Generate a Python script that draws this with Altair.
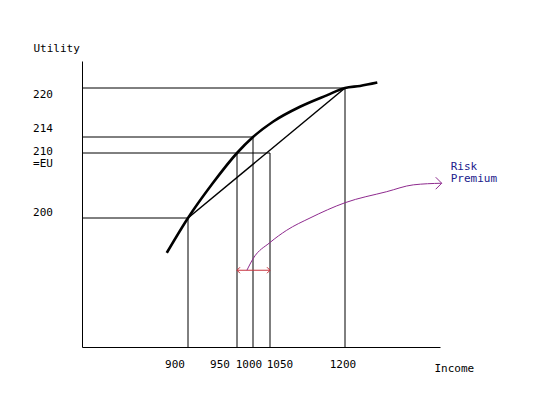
import altair as alt
import pandas as pd

# ---- schematic axes: anchor values (the original drawing is not to scale) ----
income_anchor = [700, 900, 950, 1000, 1050, 1200, 1400]
utility_anchor = [180, 200, 210, 214, 220, 224]
income_range_px = [0, 106, 155, 171, 188, 263, 358]
utility_range_px = [286, 157, 92, 76, 27, 0]

# ---- tick labels ----
income_ticks = [900, 950, 1000, 1050, 1200]
income_tick_labels = ["900", "950", "1000", "1050", "1200"]
utility_ticks = [220, 214, 210, 200]
utility_tick_labels = [["220"], ["214"], ["210", "=EU"], ["200"]]

# ---- utility curve ----
curve_income = [860, 900, 925, 950, 1000, 1056.6, 1110, 1163.4, 1200, 1231.6, 1268]
curve_utility = [194.6, 200, 205.3, 210, 214, 215.9, 217.7, 219.1, 220, 220.3, 220.8]

# ---- chord between the two outcomes ----
chord_income = [900, 1200]
chord_utility = [200, 220]

# ---- guide lines ----
hline_utility = [220, 214, 210, 200]
hline_end_income = [1200, 1000, 1050, 900]
vline_income = [900, 950, 1000, 1050, 1200]
vline_top_utility = [200, 210, 214, 210, 220]

# ---- risk premium bracket and annotation ----
rp_income = [950, 1050]
rp_utility = 191.9
arrow_income = [981, 1000.9, 1050, 1083.4, 1130, 1200, 1287.8, 1343.8, 1403.6]
arrow_utility = [191.9, 193.75, 196.2, 198.1, 200.0, 202.35, 204.05, 205.1, 205.35]
annotation_text = ["Risk", "Premium"]

# ---- label layout (pixel nudges of hand-placed labels) ----
x_label_dx = [-13, -17, -4, 10, -2]
y_label_dy = [9.5, -5.5, 2, -2]

FONT = "DejaVu Sans Mono"
FS = 11
PURPLE = "#8e2a8e"
RED = "#c8323c"
BLUE = "#20208c"

xscale = alt.Scale(domain=income_anchor, range=income_range_px, nice=False, zero=False)
yscale = alt.Scale(domain=utility_anchor, range=utility_range_px, nice=False, zero=False)
xaxis = alt.Axis(title="Income", ticks=False, labels=False, grid=False, domainColor="black",
                 domainWidth=1, titleFont=FONT, titleFontSize=FS, titleFontWeight="normal",
                 titleColor="black", titleX=352, titleY=24, titleAlign="left",
                 titleBaseline="alphabetic")
yaxis = alt.Axis(title="Utility", ticks=False, labels=False, grid=False, domainColor="black",
                 domainWidth=1, titleFont=FONT, titleFontSize=FS, titleFontWeight="normal",
                 titleColor="black", titleAngle=0, titleX=-49, titleY=-10, titleAlign="left",
                 titleBaseline="alphabetic")


def X(field):
    return alt.X(field, type="quantitative", scale=xscale, axis=xaxis)


def Y(field):
    return alt.Y(field, type="quantitative", scale=yscale, axis=yaxis)


x_min = income_anchor[0]
y_min = utility_anchor[0]

hdf = pd.DataFrame({"start": [x_min] * len(hline_utility), "end": hline_end_income,
                    "utility": hline_utility})
vdf = pd.DataFrame({"income": vline_income, "bottom": [y_min] * len(vline_income),
                    "top": vline_top_utility})

hlines = alt.Chart(hdf).mark_rule(color="black", strokeWidth=1).encode(
    x=X("start"), x2="end", y=Y("utility"))
vlines = alt.Chart(vdf).mark_rule(color="black", strokeWidth=1).encode(
    x=X("income"), y=Y("bottom"), y2="top")

curve = alt.Chart(pd.DataFrame({"income": curve_income, "utility": curve_utility})).mark_line(
    color="black", strokeWidth=2.6, interpolate="monotone").encode(
    x=X("income"), y=Y("utility"))

chord = alt.Chart(pd.DataFrame({"income": chord_income, "utility": chord_utility})).mark_line(
    color="black", strokeWidth=1.5).encode(x=X("income"), y=Y("utility"))

rp_df = pd.DataFrame({"income": rp_income, "utility": [rp_utility] * 2})
rp_line = alt.Chart(rp_df).mark_line(color=RED, strokeWidth=1).encode(
    x=X("income"), y=Y("utility"))
rp_left = alt.Chart(rp_df.iloc[[0]]).mark_point(
    shape="M 1 -1 L 0 0 L 1 1", filled=False, color=RED, size=36, strokeWidth=1,
    opacity=1).encode(x=X("income"), y=Y("utility"))
rp_right = alt.Chart(rp_df.iloc[[1]]).mark_point(
    shape="M -1 -1 L 0 0 L -1 1", filled=False, color=RED, size=36, strokeWidth=1,
    opacity=1).encode(x=X("income"), y=Y("utility"))

arrow_df = pd.DataFrame({"income": arrow_income, "utility": arrow_utility})
arrow = alt.Chart(arrow_df).mark_line(color=PURPLE, strokeWidth=1,
                                      interpolate="monotone").encode(
    x=X("income"), y=Y("utility"))
arrow_head = alt.Chart(arrow_df.iloc[[-1]]).mark_point(
    shape="M -1 -1 L 0 0 L -1 1", filled=False, color=PURPLE, size=144, strokeWidth=1,
    opacity=1).encode(x=X("income"), y=Y("utility"))

note_df = pd.DataFrame({"income": [arrow_income[-1]], "utility": [arrow_utility[-1]],
                        "text": [annotation_text]})
note = alt.Chart(note_df).mark_text(
    align="left", baseline="alphabetic", dx=9, dy=-13, font=FONT, fontSize=FS,
    lineHeight=12, color=BLUE).encode(x=X("income"), y=Y("utility"), text="text")

layers = [hlines, vlines, chord, curve, rp_line, rp_left, rp_right, arrow, arrow_head, note]

for v, lab, dx in zip(income_ticks, income_tick_labels, x_label_dx):
    d = pd.DataFrame({"income": [v], "utility": [y_min], "label": [lab]})
    layers.append(alt.Chart(d).mark_text(
        align="center", baseline="alphabetic", dx=dx, dy=21, font=FONT, fontSize=FS,
        color="black").encode(x=X("income"), y=Y("utility"), text="label"))

for v, lab, dy in zip(utility_ticks, utility_tick_labels, y_label_dy):
    d = pd.DataFrame({"income": [x_min], "utility": [v], "label": [lab]})
    layers.append(alt.Chart(d).mark_text(
        align="center", baseline="alphabetic", dx=-39, dy=dy, font=FONT, fontSize=FS,
        lineHeight=12, color="black").encode(x=X("income"), y=Y("utility"), text="label"))

chart = alt.layer(*layers).properties(
    width=358, height=286,
    autosize=alt.AutoSizeParams(type="none"),
    padding={"left": 74, "top": 53, "right": 89, "bottom": 44},
    background="white",
).configure_view(stroke=None)

chart.save("out.html", embed_options={"renderer": "svg", "actions": False})
